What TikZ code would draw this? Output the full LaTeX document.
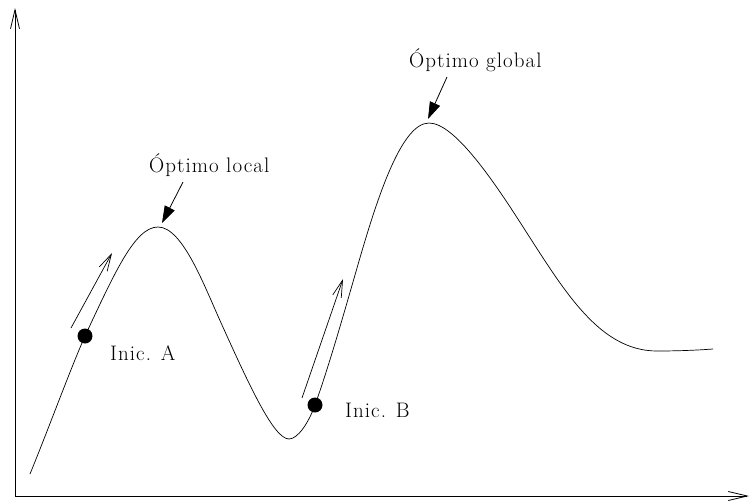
\documentclass[tikz,border=0pt]{standalone}
\usepackage{fontspec}
\newfontfamily\lblfont{Latin Modern Roman}[LetterSpace=5]
\usetikzlibrary{arrows.meta}
\begin{document}
\begin{tikzpicture}[x=1pt,y=-1pt,
  axis/.style={line width=0.9pt,-{Straight Barb[length=19pt,width=9pt,line width=0.8pt]}},
  curve/.style={line width=0.7pt},
  climb/.style={line width=0.7pt,-{Straight Barb[length=17pt,width=9pt,line width=0.7pt]}},
  pointer/.style={line width=0.8pt,-{Triangle[length=17pt,width=11pt]}},
  dot/.style={circle,fill=black,inner sep=0pt,minimum size=15pt},
  lbl/.style={inner sep=0pt,font=\lblfont\fontsize{21}{24}\selectfont}]
\useasboundingbox (0,0) rectangle (750,501);
% axes
\coordinate (O) at (15,496);
\coordinate (yend) at (15,8);
\coordinate (xend) at (749,496);
\draw[axis] (O) -- (yend);
\draw[axis] (O) -- (xend);
% curve
\draw[curve] (30,474) .. controls (50,425) and (70,370) .. (85,336)
  .. controls (115,272) and (135,227) .. (158,227)
  .. controls (183,227) and (205,288) .. (222,325)
  .. controls (250,387) and (274,439) .. (289,439)
  .. controls (298,439) and (309,422) .. (315,405)
  .. controls (329,366) and (344,313) .. (355,275)
  .. controls (375,205) and (400,123) .. (429,123)
  .. controls (455,123) and (495,183) .. (525,230)
  .. controls (565,292) and (600,351) .. (657,351)
  .. controls (680,351) and (700,350) .. (713,349);
% start points
\node[dot] (A) at (85,336) {};
\node[dot] (B) at (315,405) {};
\node[lbl,anchor=base west] (la) at (110,360) {Inic. A};
\node[lbl,anchor=base west] (lb) at (345,417) {Inic. B};
% climbing arrows
\coordinate (a1) at (71,328);
\coordinate (a2) at (112,253);
\coordinate (b1) at (302,398);
\coordinate (b2) at (343,279);
\draw[climb] (a1) -- (a2);
\draw[climb] (b1) -- (b2);
% optimum labels
\node[lbl,anchor=base west] (ol) at (149,172) {Óptimo local};
\node[lbl,anchor=base west] (og) at (409,67) {Óptimo global};
\coordinate (ol1) at (183,182);
\coordinate (ol2) at (162,223);
\coordinate (og1) at (447,77);
\coordinate (og2) at (428,119);
\draw[pointer] (ol1) -- (ol2);
\draw[pointer] (og1) -- (og2);
\end{tikzpicture}
\end{document}
